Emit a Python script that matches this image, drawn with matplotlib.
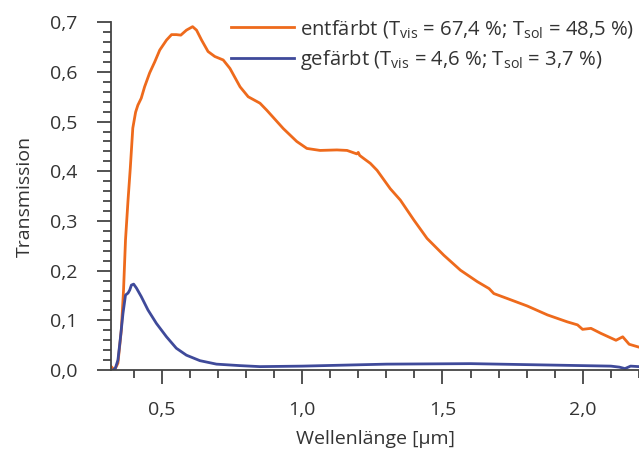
import numpy as np
import matplotlib
matplotlib.use('Agg')
from matplotlib import pyplot as plt
from matplotlib.ticker import MultipleLocator, FuncFormatter

# entfärbt (orange) - wavelength in µm, transmission
wl_ent = [0.320, 0.332, 0.344, 0.356, 0.364, 0.371, 0.380, 0.388, 0.397, 0.407,
          0.415, 0.427, 0.439, 0.457, 0.475, 0.493, 0.517, 0.535, 0.552, 0.568,
          0.588, 0.610, 0.624, 0.642, 0.665, 0.689, 0.719, 0.743, 0.779, 0.808,
          0.850, 0.874, 0.933, 0.981, 1.017, 1.064, 1.124, 1.160, 1.195, 1.200,
          1.205, 1.219, 1.243, 1.267, 1.314, 1.350, 1.398, 1.445, 1.505, 1.564,
          1.624, 1.666, 1.683, 1.731, 1.802, 1.874, 1.945, 1.981, 1.999, 2.029,
          2.064, 2.118, 2.142, 2.165, 2.201]
tr_ent = [0.007, 0.000, 0.014, 0.080, 0.161, 0.262, 0.342, 0.406, 0.487, 0.519,
          0.533, 0.547, 0.570, 0.598, 0.620, 0.644, 0.664, 0.675, 0.675, 0.674,
          0.684, 0.691, 0.684, 0.664, 0.641, 0.631, 0.624, 0.607, 0.570, 0.550,
          0.537, 0.523, 0.486, 0.460, 0.446, 0.442, 0.443, 0.442, 0.435, 0.438,
          0.432, 0.426, 0.416, 0.402, 0.365, 0.342, 0.302, 0.265, 0.231, 0.201,
          0.178, 0.164, 0.154, 0.144, 0.129, 0.111, 0.097, 0.091, 0.082, 0.084,
          0.074, 0.060, 0.067, 0.052, 0.046]

# gefärbt (blue)
wl_gef = [0.326, 0.335, 0.344, 0.352, 0.362, 0.371, 0.380, 0.386, 0.392, 0.400,
          0.410, 0.427, 0.451, 0.481, 0.517, 0.552, 0.588, 0.636, 0.695, 0.779,
          0.850, 1.000, 1.300, 1.600, 2.000, 2.100, 2.130, 2.150, 2.170, 2.200]
tr_gef = [0.000, 0.004, 0.020, 0.060, 0.114, 0.151, 0.155, 0.161, 0.171, 0.173,
          0.165, 0.148, 0.121, 0.094, 0.067, 0.044, 0.030, 0.019, 0.012, 0.009,
          0.007, 0.008, 0.012, 0.013, 0.009, 0.008, 0.006, 0.003, 0.008, 0.007]

label_ent = r'entfärbt (T$_\mathregular{vis}$ = 67,4 %; T$_\mathregular{sol}$ = 48,5 %)'
label_gef = r'gefärbt (T$_\mathregular{vis}$ = 4,6 %; T$_\mathregular{sol}$ = 3,7 %)'

plt.rcParams['font.family'] = ['Open Sans', 'DejaVu Sans']
plt.rcParams['mathtext.fontset'] = 'custom'
plt.rcParams['mathtext.rm'] = 'Open Sans'

txt = '#333333'
fig = plt.figure(figsize=(6.39, 4.53), dpi=100)
ax = fig.add_axes([0.174, 0.183, 0.826, 0.768])

ax.plot(wl_ent, tr_ent, color='#EE6A1C', lw=2.0, label=label_ent)
ax.plot(wl_gef, tr_gef, color='#3F4A9A', lw=2.0, label=label_gef)

ax.set_xlim(0.32, 2.2)
ax.set_ylim(0, 0.7)
ax.xaxis.set_major_locator(MultipleLocator(0.5))
ax.xaxis.set_minor_locator(MultipleLocator(0.1))
ax.yaxis.set_major_locator(MultipleLocator(0.1))
ax.yaxis.set_minor_locator(MultipleLocator(0.02))
ax.xaxis.set_major_formatter(FuncFormatter(lambda v, p: f'{v:.1f}'.replace('.', ',')))
ax.yaxis.set_major_formatter(FuncFormatter(lambda v, p: f'{v:.1f}'.replace('.', ',')))

for s in ['top', 'right']:
    ax.spines[s].set_visible(False)
for s in ['left', 'bottom']:
    ax.spines[s].set_color('#444444')
    ax.spines[s].set_linewidth(1.3)
ax.tick_params(which='major', length=10, width=1.3, color='#444444',
               labelsize=14, labelcolor=txt)
ax.tick_params(axis='x', which='major', pad=12)
ax.tick_params(axis='y', which='major', pad=14)
ax.tick_params(which='minor', length=5.5, width=1.3, color='#444444')

ax.set_xlabel('Wellenlänge [µm]', fontsize=14, color=txt, labelpad=8)
ax.set_ylabel('Transmission', fontsize=14, color=txt, labelpad=12)

fig.legend(loc='upper right', bbox_to_anchor=(1.012, 0.988), frameon=False,
           fontsize=14.6, handlelength=3.1, handletextpad=0.3,
           labelspacing=0.42, borderaxespad=0.2, labelcolor=txt)

fig.savefig('out.png', dpi=100)
